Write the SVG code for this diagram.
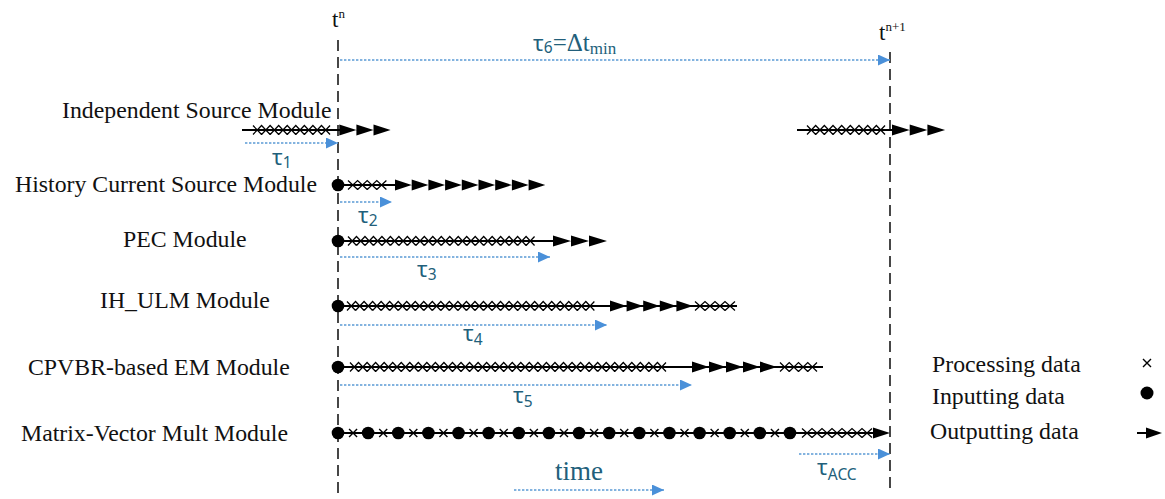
<svg xmlns="http://www.w3.org/2000/svg" xmlns:xlink="http://www.w3.org/1999/xlink" width="1165" height="499" viewBox="0 0 1165 499">
<style>
.lbl{font-family:"Liberation Serif","Times New Roman",serif;font-size:23.8px;fill:#111}
.tick{font-family:"Liberation Serif","Times New Roman",serif;fill:#111}
.tau{font-family:"Noto Sans","DejaVu Sans",sans-serif;font-size:22px;fill:#225f7b}
.sub{font-family:"Noto Sans","DejaVu Sans",sans-serif;font-size:15.5px}
.ser{font-family:"Liberation Serif","Times New Roman",serif;fill:#225f7b}
.row{stroke:#000;stroke-width:2;fill:none}
.xs{stroke:#000;stroke-width:1.25;fill:none}
.ah{fill:#000;stroke:none}
.vt{stroke:#333;stroke-width:1.8;stroke-dasharray:11 6;fill:none}
.dot{stroke:#5b9bd5;stroke-width:1.6;stroke-dasharray:2.4 1.6;fill:none}
</style>
<defs>
<marker id="bh" markerUnits="userSpaceOnUse" markerWidth="13" markerHeight="11" refX="12" refY="5.5" orient="auto"><path d="M0 0L12 5.5L0 11Z" fill="#4a90d9"/></marker>
<circle id="dt" r="6.3" fill="#000"/>
<path id="sx" d="M-4-4l8 8m0-8l-8 8" stroke="#000" stroke-width="1.4" fill="none"/>
</defs>

<g id="time-markers">
<line class="vt" x1="338" y1="40" x2="338" y2="499"/>
<line class="vt" x1="890" y1="52" x2="890" y2="488"/>
<text class="tick" x="332" y="27" font-size="23">t<tspan font-size="13" dy="-9">n</tspan></text>
<text class="tick" x="879" y="40" font-size="23">t<tspan font-size="13" dy="-9">n+1</tspan></text>
</g>

<g id="independent-source">
<text class="lbl" x="62" y="118">Independent Source Module</text>
<line class="row" x1="242" y1="130" x2="340" y2="130"/>
<path class="xs" d="M253 125.5l8.56 9m-8.56 0l8.56-9l8.56 9m-8.56 0l8.56-9l8.56 9m-8.56 0l8.56-9l8.56 9m-8.56 0l8.56-9l8.56 9m-8.56 0l8.56-9l8.56 9m-8.56 0l8.56-9l8.56 9m-8.56 0l8.56-9l8.56 9m-8.56 0l8.56-9l8.56 9m-8.56 0l8.56-9"/>
<path class="ah" d="M339.3 124.5l17.1 5.5l-17.1 5.5zm17.1 0l17.1 5.5l-17.1 5.5zm17.1 0l17.1 5.5l-17.1 5.5z"/>
<line class="row" x1="797" y1="130" x2="893" y2="130"/>
<path class="xs" d="M807 125.5l8.67 9m-8.67 0l8.67-9l8.67 9m-8.67 0l8.67-9l8.67 9m-8.67 0l8.67-9l8.67 9m-8.67 0l8.67-9l8.67 9m-8.67 0l8.67-9l8.67 9m-8.67 0l8.67-9l8.67 9m-8.67 0l8.67-9l8.67 9m-8.67 0l8.67-9l8.67 9m-8.67 0l8.67-9"/>
<path class="ah" d="M892 124.5l17.7 5.5l-17.7 5.5zm17.7 0l17.7 5.5l-17.7 5.5zm17.7 0l17.7 5.5l-17.7 5.5z"/>
</g>

<g id="history-current-source">
<text class="lbl" x="15" y="192">History Current Source Module</text>
<line class="row" x1="338" y1="185" x2="396" y2="185"/>
<use xlink:href="#dt" x="338" y="185"/>
<path class="xs" d="M348 180.5l9.6 9m-9.6 0l9.6-9l9.6 9m-9.6 0l9.6-9l9.6 9m-9.6 0l9.6-9l9.6 9m-9.6 0l9.6-9"/>
<path class="ah" d="M395 179.5l16.7 5.5l-16.7 5.5zm16.7 0l16.7 5.5l-16.7 5.5zm16.7 0l16.7 5.5l-16.7 5.5zm16.7 0l16.7 5.5l-16.7 5.5zm16.7 0l16.7 5.5l-16.7 5.5zm16.7 0l16.7 5.5l-16.7 5.5zm16.7 0l16.7 5.5l-16.7 5.5zm16.7 0l16.7 5.5l-16.7 5.5zm16.7 0l16.7 5.5l-16.7 5.5z"/>
</g>

<g id="pec">
<text class="lbl" x="123" y="247">PEC Module</text>
<line class="row" x1="338" y1="241" x2="554" y2="241"/>
<use xlink:href="#dt" x="338" y="241"/>
<path class="xs" d="M348 236.5l8.48 9m-8.48 0l8.48-9l8.48 9m-8.48 0l8.48-9l8.48 9m-8.48 0l8.48-9l8.48 9m-8.48 0l8.48-9l8.48 9m-8.48 0l8.48-9l8.48 9m-8.48 0l8.48-9l8.48 9m-8.48 0l8.48-9l8.48 9m-8.48 0l8.48-9l8.48 9m-8.48 0l8.48-9l8.48 9m-8.48 0l8.48-9l8.48 9m-8.48 0l8.48-9l8.48 9m-8.48 0l8.48-9l8.48 9m-8.48 0l8.48-9l8.48 9m-8.48 0l8.48-9l8.48 9m-8.48 0l8.48-9l8.48 9m-8.48 0l8.48-9l8.48 9m-8.48 0l8.48-9l8.48 9m-8.48 0l8.48-9l8.48 9m-8.48 0l8.48-9l8.48 9m-8.48 0l8.48-9l8.48 9m-8.48 0l8.48-9l8.48 9m-8.48 0l8.48-9"/>
<path class="ah" d="M553 235.5l18 5.5l-18 5.5zm18 0l18 5.5l-18 5.5zm18 0l18 5.5l-18 5.5z"/>
</g>

<g id="ih-ulm">
<text class="lbl" x="100" y="308">IH_ULM Module</text>
<line class="row" x1="338" y1="306" x2="737" y2="306"/>
<use xlink:href="#dt" x="338" y="306"/>
<path class="xs" d="M347 301.5l8.53 9m-8.53 0l8.53-9l8.53 9m-8.53 0l8.53-9l8.53 9m-8.53 0l8.53-9l8.53 9m-8.53 0l8.53-9l8.53 9m-8.53 0l8.53-9l8.53 9m-8.53 0l8.53-9l8.53 9m-8.53 0l8.53-9l8.53 9m-8.53 0l8.53-9l8.53 9m-8.53 0l8.53-9l8.53 9m-8.53 0l8.53-9l8.53 9m-8.53 0l8.53-9l8.53 9m-8.53 0l8.53-9l8.53 9m-8.53 0l8.53-9l8.53 9m-8.53 0l8.53-9l8.53 9m-8.53 0l8.53-9l8.53 9m-8.53 0l8.53-9l8.53 9m-8.53 0l8.53-9l8.53 9m-8.53 0l8.53-9l8.53 9m-8.53 0l8.53-9l8.53 9m-8.53 0l8.53-9l8.53 9m-8.53 0l8.53-9l8.53 9m-8.53 0l8.53-9l8.53 9m-8.53 0l8.53-9l8.53 9m-8.53 0l8.53-9l8.53 9m-8.53 0l8.53-9l8.53 9m-8.53 0l8.53-9l8.53 9m-8.53 0l8.53-9l8.53 9m-8.53 0l8.53-9l8.53 9m-8.53 0l8.53-9"/>
<path class="ah" d="M610 300.5l16.6 5.5l-16.6 5.5zm16.6 0l16.6 5.5l-16.6 5.5zm16.6 0l16.6 5.5l-16.6 5.5zm16.6 0l16.6 5.5l-16.6 5.5zm16.6 0l16.6 5.5l-16.6 5.5z"/>
<path class="xs" d="M695 301.5l10 9m-10 0l10-9l10 9m-10 0l10-9l10 9m-10 0l10-9l10 9m-10 0l10-9"/>
</g>

<g id="cpvbr-em">
<text class="lbl" x="28" y="375">CPVBR-based EM Module</text>
<line class="row" x1="338" y1="367" x2="823" y2="367"/>
<use xlink:href="#dt" x="338" y="367"/>
<path class="xs" d="M350 362.5l8.54 9m-8.54 0l8.54-9l8.54 9m-8.54 0l8.54-9l8.54 9m-8.54 0l8.54-9l8.54 9m-8.54 0l8.54-9l8.54 9m-8.54 0l8.54-9l8.54 9m-8.54 0l8.54-9l8.54 9m-8.54 0l8.54-9l8.54 9m-8.54 0l8.54-9l8.54 9m-8.54 0l8.54-9l8.54 9m-8.54 0l8.54-9l8.54 9m-8.54 0l8.54-9l8.54 9m-8.54 0l8.54-9l8.54 9m-8.54 0l8.54-9l8.54 9m-8.54 0l8.54-9l8.54 9m-8.54 0l8.54-9l8.54 9m-8.54 0l8.54-9l8.54 9m-8.54 0l8.54-9l8.54 9m-8.54 0l8.54-9l8.54 9m-8.54 0l8.54-9l8.54 9m-8.54 0l8.54-9l8.54 9m-8.54 0l8.54-9l8.54 9m-8.54 0l8.54-9l8.54 9m-8.54 0l8.54-9l8.54 9m-8.54 0l8.54-9l8.54 9m-8.54 0l8.54-9l8.54 9m-8.54 0l8.54-9l8.54 9m-8.54 0l8.54-9l8.54 9m-8.54 0l8.54-9l8.54 9m-8.54 0l8.54-9l8.54 9m-8.54 0l8.54-9l8.54 9m-8.54 0l8.54-9l8.54 9m-8.54 0l8.54-9l8.54 9m-8.54 0l8.54-9l8.54 9m-8.54 0l8.54-9l8.54 9m-8.54 0l8.54-9l8.54 9m-8.54 0l8.54-9l8.54 9m-8.54 0l8.54-9"/>
<path class="ah" d="M692 361.5l17 5.5l-17 5.5zm17 0l17 5.5l-17 5.5zm17 0l17 5.5l-17 5.5zm17 0l17 5.5l-17 5.5zm17 0l17 5.5l-17 5.5z"/>
<path class="xs" d="M780 362.5l9.25 9m-9.25 0l9.25-9l9.25 9m-9.25 0l9.25-9l9.25 9m-9.25 0l9.25-9l9.25 9m-9.25 0l9.25-9"/>
</g>

<g id="matrix-vector">
<text class="lbl" x="21" y="441">Matrix-Vector Mult Module</text>
<line class="row" x1="338" y1="433" x2="874" y2="433"/>
<use xlink:href="#dt" x="338" y="433"/><use xlink:href="#dt" x="368.13" y="433"/><use xlink:href="#dt" x="398.26" y="433"/><use xlink:href="#dt" x="428.39" y="433"/><use xlink:href="#dt" x="458.52" y="433"/><use xlink:href="#dt" x="488.65" y="433"/><use xlink:href="#dt" x="518.78" y="433"/><use xlink:href="#dt" x="548.91" y="433"/><use xlink:href="#dt" x="579.04" y="433"/><use xlink:href="#dt" x="609.17" y="433"/><use xlink:href="#dt" x="639.3" y="433"/><use xlink:href="#dt" x="669.43" y="433"/><use xlink:href="#dt" x="699.56" y="433"/><use xlink:href="#dt" x="729.69" y="433"/><use xlink:href="#dt" x="759.82" y="433"/><use xlink:href="#dt" x="789.95" y="433"/>
<use xlink:href="#sx" x="353.07" y="433"/><use xlink:href="#sx" x="383.2" y="433"/><use xlink:href="#sx" x="413.33" y="433"/><use xlink:href="#sx" x="443.46" y="433"/><use xlink:href="#sx" x="473.59" y="433"/><use xlink:href="#sx" x="503.72" y="433"/><use xlink:href="#sx" x="533.85" y="433"/><use xlink:href="#sx" x="563.98" y="433"/><use xlink:href="#sx" x="594.11" y="433"/><use xlink:href="#sx" x="624.24" y="433"/><use xlink:href="#sx" x="654.37" y="433"/><use xlink:href="#sx" x="684.5" y="433"/><use xlink:href="#sx" x="714.63" y="433"/><use xlink:href="#sx" x="744.76" y="433"/><use xlink:href="#sx" x="774.89" y="433"/>
<path class="xs" d="M802 428.5l10 9m-10 0l10-9l10 9m-10 0l10-9l10 9m-10 0l10-9l10 9m-10 0l10-9l10 9m-10 0l10-9l10 9m-10 0l10-9l10 9m-10 0l10-9"/>
<path class="ah" d="M873 427.5l17 5.5l-17 5.5z"/>
</g>

<g id="legend">
<text class="lbl" x="932" y="372">Processing data</text>
<text class="lbl" x="932" y="404">Inputting data</text>
<text class="lbl" x="930" y="439">Outputting data</text>
<use xlink:href="#sx" x="1147" y="363"/>
<circle cx="1147" cy="393" r="6.5" fill="#000"/>
<line x1="1137" y1="433" x2="1148" y2="433" stroke="#000" stroke-width="2"/>
<path class="ah" d="M1146 427.5l16 5.5l-16 5.5z"/>
</g>

<g id="connectors">
<line class="dot" x1="340" y1="60" x2="890" y2="60" marker-end="url(#bh)"/>
<line class="dot" x1="245" y1="143" x2="338" y2="143" marker-end="url(#bh)"/>
<line class="dot" x1="340" y1="202" x2="392" y2="202" marker-end="url(#bh)"/>
<line class="dot" x1="340" y1="257" x2="550" y2="257" marker-end="url(#bh)"/>
<line class="dot" x1="340" y1="325" x2="607" y2="325" marker-end="url(#bh)"/>
<line class="dot" x1="340" y1="385" x2="692" y2="385" marker-end="url(#bh)"/>
<line class="dot" x1="799" y1="454" x2="890" y2="454" marker-end="url(#bh)"/>
<line class="dot" x1="514" y1="490" x2="664" y2="490" marker-end="url(#bh)"/>
</g>

<g id="labels">
<text class="tau" x="533" y="51">τ<tspan class="sub" dy="2">6</tspan><tspan class="ser" font-size="25" dy="-2">=Δt</tspan><tspan class="ser" font-size="17" dy="3">min</tspan></text>
<text class="tau" x="272" y="165">τ<tspan class="sub" dy="3">1</tspan></text>
<text class="tau" x="358" y="223">τ<tspan class="sub" dy="3">2</tspan></text>
<text class="tau" x="417" y="277">τ<tspan class="sub" dy="3">3</tspan></text>
<text class="tau" x="463" y="341">τ<tspan class="sub" dy="4">4</tspan></text>
<text class="tau" x="513" y="403">τ<tspan class="sub" dy="4">5</tspan></text>
<text class="tau" x="817" y="475">τ<tspan class="sub" dy="5">ACC</tspan></text>
<text class="ser" x="555" y="480" font-size="27">time</text>
</g>
</svg>
